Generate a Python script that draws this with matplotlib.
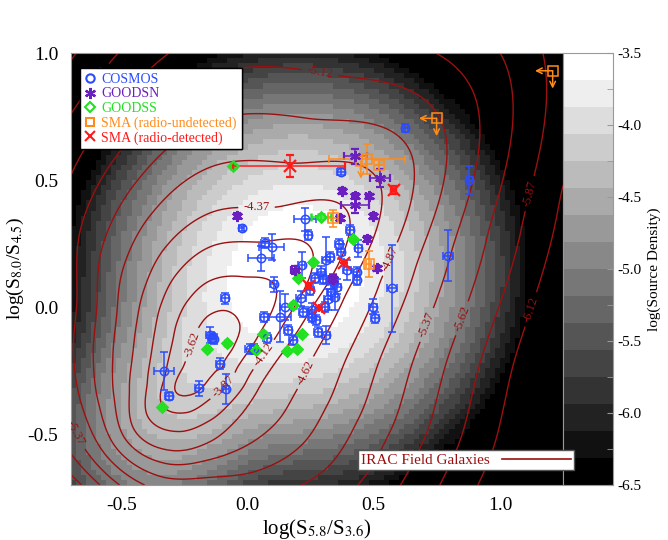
import numpy as np
import matplotlib.pyplot as plt
from matplotlib.colors import BoundaryNorm
from matplotlib.lines import Line2D

plt.rcParams['font.family'] = ['Liberation Serif', 'DejaVu Serif']
plt.rcParams['mathtext.fontset'] = 'stix'
plt.rcParams['axes.unicode_minus'] = False

# COSMOS sources: x, y, xerr, yerr
cosmos_x = [0.624, 0.879, 0.793, 0.571, 0.498, 0.505, 0.369, -0.023, 0.227, 0.241,
            0.069, 0.095, 0.053, 0.214, 0.267, 0.311, 0.369, 0.393, -0.090, 0.212,
            0.247, 0.254, 0.254, 0.307, 0.128, 0.066, 0.159, 0.181, 0.076, 0.280,
            0.311, -0.149, -0.142, 0.009, -0.109, -0.330, -0.193, -0.087, -0.312, 0.406,
            0.439, 0.327, 0.432, 0.432, 0.340, 0.355, 0.330, 0.345, 0.290, 0.300,
            0.220, 0.270, 0.150, 0.103, -0.135, 0.025, 0.363, 0.318]
cosmos_y = [0.704, 0.500, 0.202, 0.074, 0.001, -0.041, 0.533, 0.310, 0.346, 0.283,
            0.251, 0.237, 0.192, 0.165, 0.115, 0.185, 0.218, 0.146, 0.034, 0.034,
            0.067, -0.012, -0.038, 0.001, -0.038, -0.038, -0.091, -0.130, -0.123, -0.097,
            -0.110, -0.110, -0.123, -0.165, -0.222, -0.251, -0.319, -0.322, -0.350, 0.303,
            0.231, 0.198, 0.139, 0.106, 0.100, 0.080, 0.060, 0.040, 0.140, 0.110,
            -0.020, -0.050, 0.000, 0.090, -0.125, -0.165, 0.250, 0.030]
cosmos_xerr = [0.010, 0.015, 0.020, 0.020, 0.015, 0.015, 0.015, 0.010, 0.045, 0.015,
               0.015, 0.050, 0.050, 0.015, 0.015, 0.015, 0.015, 0.015, 0.015, 0.020,
               0.015, 0.015, 0.015, 0.015, 0.045, 0.015, 0.015, 0.015, 0.015, 0.015,
               0.015, 0.015, 0.015, 0.020, 0.015, 0.040, 0.015, 0.015, 0.015, 0.015,
               0.015, 0.015, 0.015, 0.015, 0.020, 0.015, 0.015, 0.015, 0.015, 0.015,
               0.015, 0.015, 0.020, 0.015, 0.015, 0.015, 0.015, 0.015]
cosmos_yerr = [0.015, 0.055, 0.100, 0.170, 0.030, 0.020, 0.015, 0.010, 0.045, 0.020,
               0.020, 0.050, 0.050, 0.050, 0.020, 0.090, 0.030, 0.040, 0.020, 0.030,
               0.020, 0.030, 0.020, 0.020, 0.100, 0.020, 0.020, 0.020, 0.020, 0.020,
               0.035, 0.030, 0.020, 0.020, 0.020, 0.075, 0.030, 0.060, 0.015, 0.020,
               0.035, 0.020, 0.020, 0.020, 0.030, 0.030, 0.030, 0.050, 0.020, 0.020,
               0.020, 0.020, 0.050, 0.030, 0.020, 0.020, 0.020, 0.040]

# GOODS-N sources
goodsn_x = [0.427, 0.525, 0.375, 0.427, 0.481, 0.426, 0.498, 0.366, 0.474, 0.511, 0.188, 0.337, -0.041]
goodsn_y = [0.594, 0.507, 0.457, 0.437, 0.437, 0.402, 0.358, 0.349, 0.270, 0.152, 0.146, 0.110, 0.359]
goodsn_xerr = [0.045, 0.040, 0.010, 0.010, 0.010, 0.055, 0.010, 0.010, 0.010, 0.010, 0.015, 0.015, 0.010]
goodsn_yerr = [0.030, 0.035, 0.010, 0.010, 0.010, 0.030, 0.010, 0.010, 0.010, 0.010, 0.015, 0.015, 0.010]

# GOODS-S sources
goodss_x = [-0.059, 0.290, 0.260, 0.201, 0.181, 0.062, 0.214, 0.032, 0.155, 0.195, -0.083, -0.160, -0.341, 0.416]
goodss_y = [0.556, 0.356, 0.178, 0.115, 0.008, -0.104, -0.107, -0.169, -0.174, -0.166, -0.143, -0.164, -0.393, 0.267]
goodss_xerr = [0.005, 0.040, 0.005, 0.005, 0.010, 0.005, 0.005, 0.005, 0.005, 0.005, 0.005, 0.005, 0.005, 0.005]
goodss_yerr = [0.005, 0.010, 0.005, 0.005, 0.010, 0.005, 0.005, 0.005, 0.005, 0.005, 0.005, 0.005, 0.005, 0.005]

# SMA, radio-undetected
smau_x = [0.474, 0.340, 0.481, 0.522]
smau_y = [0.582, 0.349, 0.169, 0.559]
smau_xerr = [0.150, 0.020, 0.010, 0.0]
smau_yerr = [0.060, 0.035, 0.050, 0.0]
# SMA, radio-undetected upper limits (arrow left in x, arrow down in y)
smal_x = [0.749, 1.209, 0.449]
smal_y = [0.743, 0.930, 0.575]
smal_left = [True, True, False]
smal_down = [True, True, True]

# SMA, radio-detected
smad_x = [0.168, 0.580, 0.382, 0.243, 0.284]
smad_y = [0.556, 0.461, 0.172, 0.083, -0.005]
smad_xerr_lo = [0.227, 0.010, 0.0, 0.010, 0.0]
smad_xerr_hi = [0.218, 0.010, 0.0, 0.010, 0.0]
smad_yerr = [0.043, 0.015, 0.0, 0.010, 0.0]

# background source density: gaussian mixture (centre, sigma major/minor, angle, weight)
src_cx = [0.20, -0.20]
src_cy = [0.14, -0.26]
src_sa = [0.25, 0.26]
src_sb = [0.25, 0.16]
src_ang = [45, 52]
src_w = [1.0, 0.20]
src_peak = -3.45

# IRAC field galaxies: radius of three contour levels read every 22.5 deg
# from a point inside the innermost loop
irac_x0, irac_y0 = -0.15, -0.19
r_362 = [0.072, 0.105, 0.168, 0.188, 0.160, 0.117, 0.092, 0.080,
         0.087, 0.113, 0.195, 0.163, 0.089, 0.066, 0.068, 0.062]
r_437 = [0.280, 0.420, 0.780, 0.630, 0.560, 0.460, 0.368, 0.315,
         0.306, 0.345, 0.420, 0.405, 0.340, 0.275, 0.240, 0.235]
r_512 = [0.680, 0.880, 1.300, 1.200, 1.100, 0.890, 0.720, 0.570,
         0.540, 0.545, 0.570, 0.570, 0.550, 0.600, 0.640, 0.640]
irac_peak = -3.45
irac_levels = [-6.12, -5.87, -5.62, -5.37, -5.12, -4.87, -4.62, -4.37, -4.12, -3.87, -3.62]

cb_ticks = [-6.5, -6.0, -5.5, -5.0, -4.5, -4.0, -3.5]

c_cosmos = '#2a4bff'
c_goodsn = '#6a1fc0'
c_goodss = '#22e022'
c_smau = '#ff8c1a'
c_smad = '#ff1a1a'
c_irac = '#9b1010'


def mixture(X, Y, cx, cy, sa, sb, ang, w):
    f = np.zeros_like(X)
    for i in range(len(cx)):
        t = np.deg2rad(ang[i])
        dx, dy = X - cx[i], Y - cy[i]
        u = dx * np.cos(t) + dy * np.sin(t)
        v = -dx * np.sin(t) + dy * np.cos(t)
        f += w[i] * np.exp(-0.5 * ((u / sa[i]) ** 2 + (v / sb[i]) ** 2))
    return f


def ring(theta, radii):
    # periodic Catmull-Rom through radii read at equal angle steps
    p = np.log(np.asarray(radii))
    n = len(p)
    s = (theta % 360.0) / (360.0 / n)
    j = np.floor(s).astype(int)
    t = s - j
    p0, p1, p2, p3 = p[(j - 1) % n], p[j % n], p[(j + 1) % n], p[(j + 2) % n]
    val = 0.5 * ((2 * p1) + (-p0 + p2) * t + (2 * p0 - 5 * p1 + 4 * p2 - p3) * t ** 2
                 + (-p0 + 3 * p1 - 3 * p2 + p3) * t ** 3)
    return np.exp(val)


fig = plt.figure(figsize=(6.68, 5.40), dpi=100)
ax = fig.add_axes([71 / 668, 1 - 485 / 540, 492 / 668, 432 / 540])
cax = fig.add_axes([563 / 668, 1 - 485 / 540, 50 / 668, 432 / 540])

# background source density, coarse pixels
xe = np.arange(-0.70, 1.2601, 0.02)
ye = np.arange(-0.70, 1.0001, 0.02)
XC, YC = np.meshgrid(0.5 * (xe[1:] + xe[:-1]), 0.5 * (ye[1:] + ye[:-1]))
fs = mixture(XC, YC, src_cx, src_cy, src_sa, src_sb, src_ang, src_w)
ls = src_peak + np.log10(fs / fs.max() + 1e-30)
bounds = np.linspace(-6.5, -3.5, 17)
cmap = plt.get_cmap('gray').copy()
norm = BoundaryNorm(bounds, cmap.N)
mesh = ax.pcolormesh(xe, ye, np.clip(ls, -6.49, -3.51), cmap=cmap, norm=norm, shading='flat')

# IRAC field galaxies contours
xf = np.linspace(-0.7, 1.25, 420)
yf = np.linspace(-0.7, 1.0, 370)
XF, YF = np.meshgrid(xf, yf)
dx, dy = XF - irac_x0, YF - irac_y0
rr = np.hypot(dx, dy)
th = np.degrees(np.arctan2(dy, dx))
ra, rb, rc = ring(th, r_362), ring(th, r_437), ring(th, r_512)
li = np.where(rr < ra, irac_peak + (-3.62 - irac_peak) * (rr / ra) ** 2,
              np.where(rr < rb, -3.62 - 0.75 * (rr - ra) / (rb - ra),
                       -4.37 - 0.75 * (rr - rb) / (rc - rb)))
cs = ax.contour(XF, YF, li, levels=irac_levels, colors=c_irac, linewidths=1.0,
                negative_linestyles='solid')
ax.clabel(cs, fmt='%.2f', fontsize=9, inline=True)

ekw = dict(linestyle='none', elinewidth=1.1, capsize=3, capthick=1.1)
ax.errorbar(cosmos_x, cosmos_y, xerr=cosmos_xerr, yerr=cosmos_yerr, marker='o', ms=6,
            mfc='none', mec=c_cosmos, mew=1.1, ecolor=c_cosmos, **ekw)
ax.errorbar(goodss_x, goodss_y, xerr=goodss_xerr, yerr=goodss_yerr, marker='D', ms=5,
            mfc='none', mec=c_goodss, mew=1.8, ecolor=c_goodss, **ekw)
ax.errorbar(goodsn_x, goodsn_y, xerr=goodsn_xerr, yerr=goodsn_yerr, marker=(6, 2, 0), ms=8,
            mfc=c_goodsn, mec=c_goodsn, mew=1.6, ecolor=c_goodsn, **ekw)
ax.errorbar(smau_x, smau_y, xerr=smau_xerr, yerr=smau_yerr, marker='s', ms=7,
            mfc='none', mec=c_smau, mew=1.1, ecolor=c_smau, **ekw)
ax.plot(smal_x, smal_y, 's', ms=7, mfc='none', mec=c_smau, mew=1.1, linestyle='none')
for x, y, lft, dn in zip(smal_x, smal_y, smal_left, smal_down):
    if lft:
        ax.annotate('', xy=(x - 0.07, y), xytext=(x, y),
                    arrowprops=dict(arrowstyle='->', color=c_smau, lw=1.1, shrinkA=0, shrinkB=0))
    if dn:
        ax.annotate('', xy=(x, y - 0.07), xytext=(x, y),
                    arrowprops=dict(arrowstyle='->', color=c_smau, lw=1.1, shrinkA=0, shrinkB=0))
ax.errorbar(smad_x, smad_y, xerr=[smad_xerr_lo, smad_xerr_hi], yerr=smad_yerr, marker='x', ms=8,
            mec=c_smad, mew=1.6, ecolor=c_smad, **ekw)

ax.set_xlim(-0.70, 1.25)
ax.set_ylim(-0.70, 1.00)
ax.set_xticks([-0.5, 0.0, 0.5, 1.0])
ax.set_yticks([-0.5, 0.0, 0.5, 1.0])
ax.set_xticklabels(['-0.5', '0.0', '0.5', '1.0'])
ax.set_yticklabels(['-0.5', '0.0', '0.5', '1.0'])
ax.tick_params(length=0, labelsize=14, pad=9)
for s in ax.spines.values():
    s.set_color('#999999')
    s.set_linewidth(0.8)
ax.set_xlabel(r'log(S$_{5.8}$/S$_{3.6}$)', fontsize=15, labelpad=2)
ax.set_ylabel(r'log(S$_{8.0}$/S$_{4.5}$)', fontsize=14, labelpad=1)

cb = fig.colorbar(mesh, cax=cax, ticks=cb_ticks)
cb.ax.set_yticklabels(['%.1f' % t for t in cb_ticks])
cb.ax.yaxis.set_minor_locator(plt.FixedLocator(np.arange(-6.25, -3.5, 0.5)))
cb.ax.tick_params(which='both', direction='in', length=4, color='#999999', labelsize=11)
cb.outline.set_edgecolor('#999999')
cb.set_label('log(Source Density)', fontsize=11)

handles = [
    Line2D([], [], marker='o', ls='none', mfc='none', mec=c_cosmos, mew=1.5, ms=6),
    Line2D([], [], marker=(6, 2, 0), ls='none', mec=c_goodsn, mew=1.6, ms=8),
    Line2D([], [], marker='D', ls='none', mfc='none', mec=c_goodss, mew=1.5, ms=5),
    Line2D([], [], marker='s', ls='none', mfc='none', mec=c_smau, mew=1.5, ms=6),
    Line2D([], [], marker='x', ls='none', mec=c_smad, mew=1.5, ms=7),
]
labels = ['COSMOS', 'GOODSN', 'GOODSS', 'SMA (radio-undetected)', 'SMA (radio-detected)']
leg = ax.legend(handles, labels, loc='upper left', bbox_to_anchor=(0.018, 0.965),
                fontsize=10, frameon=True, fancybox=False, framealpha=1,
                edgecolor='black', handlelength=0.8, handletextpad=0.4,
                labelspacing=0.1, borderpad=0.35, borderaxespad=0)
for t, c in zip(leg.get_texts(), [c_cosmos, c_goodsn, c_goodss, c_smau, c_smad]):
    t.set_color(c)
ax.add_artist(leg)

leg2 = fig.legend([Line2D([], [], color=c_irac, lw=1.2)], ['IRAC Field Galaxies'],
                  loc='lower left', bbox_to_anchor=(358 / 668, 1 - 470 / 540),
                  fontsize=11, frameon=True, fancybox=False, framealpha=1,
                  edgecolor='#555555', markerfirst=False, handlelength=4.5,
                  borderpad=0.2, borderaxespad=0)
leg2.get_texts()[0].set_color(c_irac)

fig.savefig('out.png', dpi=100)
